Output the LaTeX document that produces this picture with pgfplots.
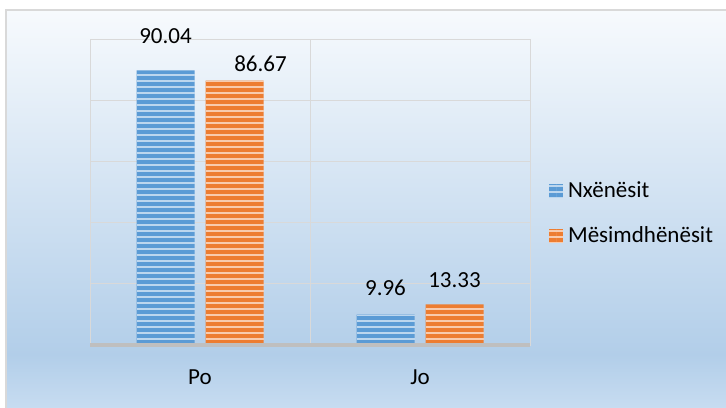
\documentclass[border=0pt]{standalone}
\usepackage{pgfplots}
\usepackage{pgfplotstable}
\pgfplotsset{compat=1.18}
\usepackage{fontspec}
\setmainfont{Carlito}

\definecolor{barblue}{HTML}{5B9BD5}
\definecolor{stripeblue}{HTML}{BCD6EE}
\definecolor{barorange}{HTML}{ED7D31}
\definecolor{stripeorange}{HTML}{F8CBAD}
\definecolor{gridc}{HTML}{D9D9D9}
\definecolor{axc}{HTML}{BFBFBF}
\definecolor{bgtop}{HTML}{F7FAFD}
\definecolor{bgmid}{HTML}{B2CEE9}
\definecolor{bgbot}{HTML}{C7DCF1}

\pgfdeclareverticalshading{bg}{100bp}{color(0bp)=(bgbot); color(25bp)=(bgbot); color(31.7bp)=(bgmid); color(75bp)=(bgtop); color(100bp)=(bgtop)}

% x y dx dy (label offsets in bp)
\pgfplotstableread{
x y dx dy
0 90.04 0 27
1 9.96 0 19
}\nx
\pgfplotstableread{
x y dx dy
0 86.67 26 9.3
1 13.33 0 17.3
}\ms

\pgfplotsset{
    labels/.style={
        nodes near coords,
        visualization depends on={\thisrow{dx} \as \dx},
        visualization depends on={\thisrow{dy} \as \dy},
        nodes near coords style={anchor=base, xshift=\dx bp, yshift=\dy bp, black},
    },
    stripes/.style={ycomb, mark=none, forget plot, draw=#1, line width=58bp,
        line cap=butt, dash pattern=on 2bp off 4bp, dash phase=1bp},
}

\begin{document}
\fontsize{23bp}{28bp}\selectfont
\begin{tikzpicture}
\useasboundingbox (0,0) rectangle (726bp,408bp);
\shade[shading=bg] (6bp,0) rectangle (726bp,398bp);
\draw[gridc, line width=1.2bp] (6bp,0) -- (6bp,398bp) -- (726bp,398bp);
\begin{axis}[
    at={(90bp,63bp)}, anchor=south west,
    scale only axis,
    width=440bp, height=305bp,
    ybar=11bp, bar width=58bp,
    xmin=-0.5, xmax=1.5, ymin=0, ymax=100,
    enlargelimits=false,
    clip=false,
    xtick={0,1}, xticklabels={Po,Jo},
    minor xtick={0.5}, xminorgrids,
    ytick={0,20,...,100}, yticklabels={},
    ymajorgrids,
    major tick length=0, minor tick length=0,
    grid style={draw=gridc, line width=1bp},
    minor grid style={draw=gridc, line width=1bp},
    axis line style={draw=gridc, line width=1bp},
    xticklabel style={anchor=base, yshift=-39bp},
    /pgf/number format/assume math mode=true,
    legend style={at={(1.043,0.431)}, anchor=west, draw=none, fill=none,
        inner sep=0pt, row sep=17bp, legend cell align=left,
        /tikz/every odd column/.append style={column sep=3bp}},
]
\addplot[draw=none, fill=barblue, labels,
    legend image code/.code={
        \fill[barblue] (0bp,-7bp) rectangle (14bp,7bp);
        \draw[stripeblue, line width=14bp, dash pattern=on 2bp off 4bp, dash phase=1bp] (7bp,-7bp) -- (7bp,7bp);}]
    table[x=x, y=y] {\nx};
\addlegendentry{Nxënësit}
\addplot[draw=none, fill=barorange, labels,
    legend image code/.code={
        \fill[barorange] (0bp,-7bp) rectangle (14bp,7bp);
        \draw[stripeorange, line width=14bp, dash pattern=on 2bp off 4bp, dash phase=1bp] (7bp,-7bp) -- (7bp,7bp);}]
    table[x=x, y=y] {\ms};
\addlegendentry{Mësimdhënësit}
\addplot[stripes=stripeblue, xshift=-34.5bp] table[x=x, y=y] {\nx};
\addplot[stripes=stripeorange, xshift=34.5bp] table[x=x, y=y] {\ms};
\draw[axc, line width=3.5bp] (axis cs:-0.5,0) -- (axis cs:1.5,0);
\end{axis}
\end{tikzpicture}
\end{document}
